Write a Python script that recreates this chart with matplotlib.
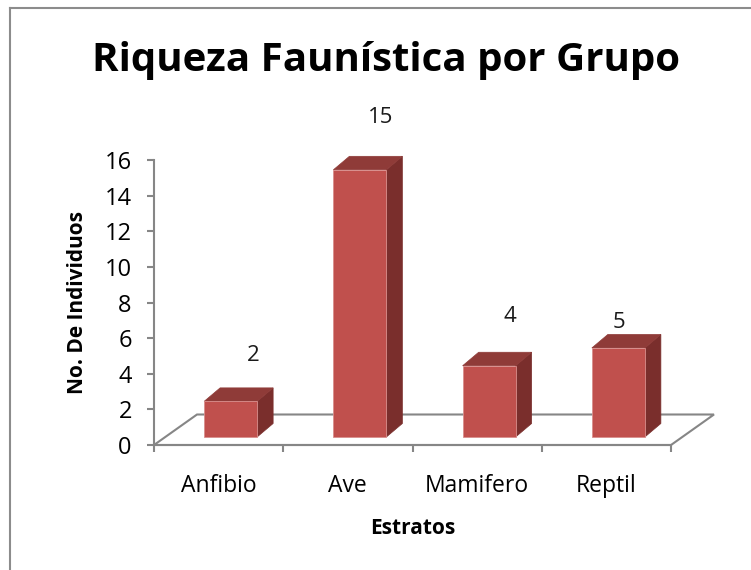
import matplotlib
matplotlib.use('Agg')
import matplotlib.pyplot as plt
from matplotlib.patches import Polygon
from matplotlib.lines import Line2D

grupos = ['Anfibio', 'Ave', 'Mamifero', 'Reptil']
individuos = [2, 15, 4, 5]
y_ticks = [0, 2, 4, 6, 8, 10, 12, 14, 16]

# where the value labels sit, relative to each column
label_dx = [0.27, 0.25, 0.25, 0.10]
label_dy = [3.0, 3.4, 3.2, 1.9]

font = 'Open Sans'
front_c = '#C0504D'
top_c = '#8F3B38'
side_c = '#7A2E2C'
axis_c = '#868686'

fig = plt.figure(figsize=(7.51, 5.70), dpi=100)
ax = fig.add_axes([154 / 751, 125 / 570, 517 / 751, 285 / 570])
ax.set_xlim(-0.5, 3.5)
ax.set_ylim(0, 16)

# pixel -> data helpers for the fake 3d look
px_x = 4 / 517
px_y = 16 / 285
floor_dx, floor_dy = 43 * px_x, 30.5 * px_y
bar_shift_x, bar_shift_y = 12 * px_x, 8 * px_y
bar_w = 53 * px_x
bar_dx, bar_dy = 16 * px_x, 13.5 * px_y

# floor outline
floor = Polygon([(-0.5, 0), (3.5, 0), (3.5 + floor_dx, floor_dy), (-0.5 + floor_dx, floor_dy)],
                closed=True, fill=False, edgecolor=axis_c, lw=1.5, clip_on=False, zorder=1)
ax.add_patch(floor)

for i, v in enumerate(individuos):
    x0 = i + bar_shift_x - bar_w / 2
    x1 = x0 + bar_w
    y0 = bar_shift_y
    y1 = y0 + v
    front = Polygon([(x0, y0), (x1, y0), (x1, y1), (x0, y1)], closed=True,
                    facecolor=front_c, edgecolor='#D98F8D', lw=0.6, clip_on=False, zorder=3)
    top = Polygon([(x0, y1), (x1, y1), (x1 + bar_dx, y1 + bar_dy), (x0 + bar_dx, y1 + bar_dy)],
                  closed=True, facecolor=top_c, edgecolor=top_c, lw=0.5, clip_on=False, zorder=2)
    side = Polygon([(x1, y0), (x1 + bar_dx, y0 + bar_dy), (x1 + bar_dx, y1 + bar_dy), (x1, y1)],
                   closed=True, facecolor=side_c, edgecolor=side_c, lw=0.5, clip_on=False, zorder=2)
    for p in (side, top, front):
        ax.add_patch(p)
    ax.text(i + label_dx[i], v + label_dy[i], str(v), ha='center', va='center',
            fontsize=16, family=font, color='#1a1a1a', clip_on=False)

for s in ['top', 'right']:
    ax.spines[s].set_visible(False)
for s in ['left', 'bottom']:
    ax.spines[s].set_color(axis_c)
    ax.spines[s].set_linewidth(1.5)
    ax.spines[s].set_zorder(1)

ax.set_yticks(y_ticks)
ax.set_yticklabels([str(t) for t in y_ticks], family=font, fontsize=17)
ax.tick_params(axis='y', direction='out', length=5, width=1.5, color=axis_c, pad=11)

ax.set_xticks([-0.5, 0.5, 1.5, 2.5, 3.5])
ax.set_xticklabels([])
ax.set_xticks(range(len(grupos)), minor=True)
ax.set_xticklabels(grupos, minor=True, family=font, fontsize=16.5)
ax.tick_params(axis='x', which='major', direction='out', length=5, width=1.5, color=axis_c)
ax.tick_params(axis='x', which='minor', length=0, pad=21)

ax.set_ylabel('No. De Individuos', family=font, fontsize=15, fontweight='bold', labelpad=12)
ax.set_xlabel('Estratos', family=font, fontsize=15, fontweight='bold', labelpad=14)
ax.patch.set_visible(False)

fig.text(386 / 751, 1 - 60 / 570, 'Riqueza Faunística por Grupo', ha='center', va='center',
         family=font, fontsize=29, fontweight='bold')

# chart frame (only the left and top edges fall inside the image)
fig.add_artist(Line2D([10 / 751, 10 / 751], [0, 1 - 8 / 570], transform=fig.transFigure,
                      color='#8c8c8c', lw=1.5))
fig.add_artist(Line2D([10 / 751, 1], [1 - 8 / 570, 1 - 8 / 570], transform=fig.transFigure,
                      color='#8c8c8c', lw=1.5))

fig.savefig('out.png', dpi=100)
